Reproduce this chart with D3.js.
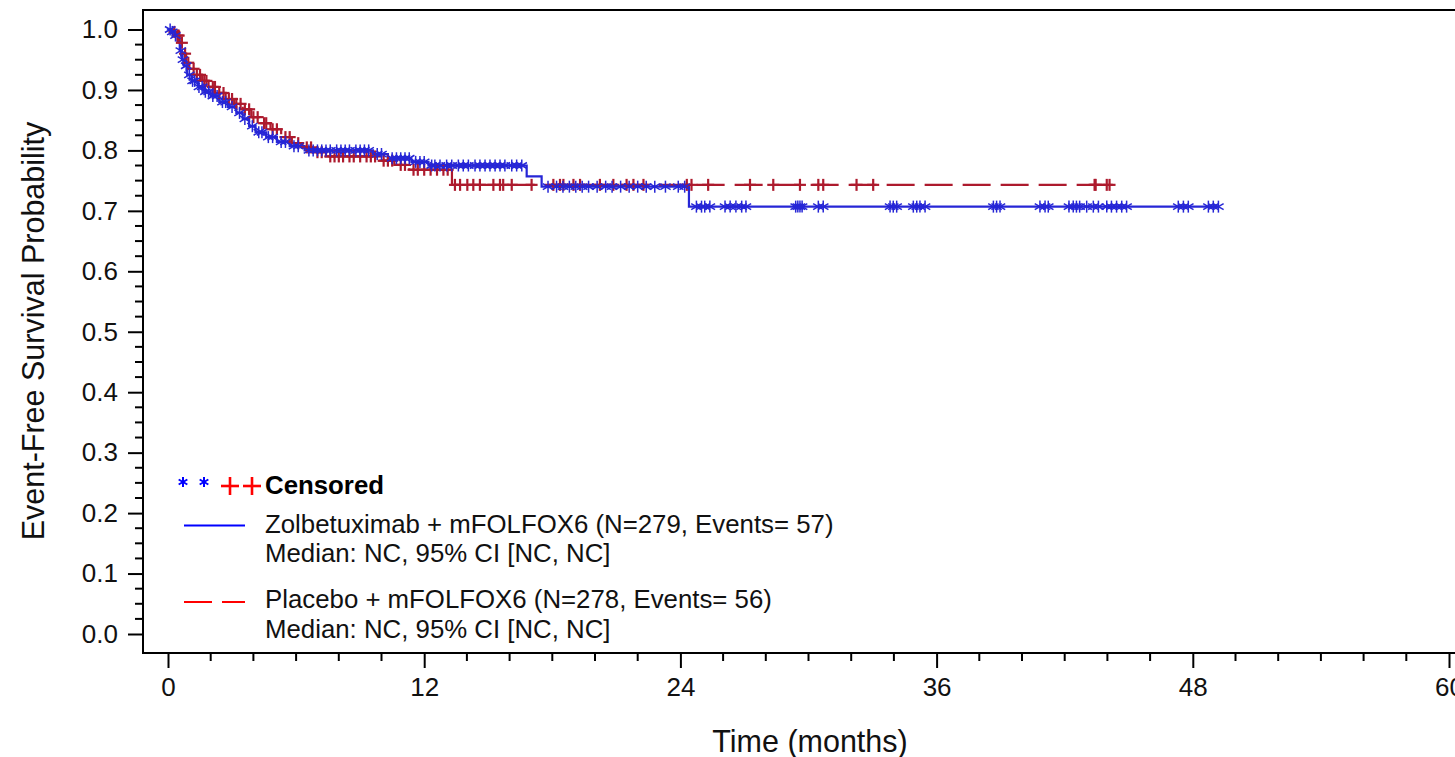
<!DOCTYPE html>
<html>
<head>
<meta charset="utf-8">
<script src="https://cdn.jsdelivr.net/npm/d3@7"></script>
<style>
  html, body { margin: 0; padding: 0; background: #fff; }
  svg { display: block; font-family: "Liberation Sans", Arial, sans-serif; }
</style>
</head>
<body>
<svg id="chart" width="1455" height="757"></svg>
<script>
// Kaplan-Meier step estimates: time of each drop (months) and survival after it
const zolbStepTime = [0.15, 0.3, 0.45, 0.55, 0.65, 0.75, 0.9, 1.1, 1.4, 1.7, 2.0, 2.4, 2.8, 3.2, 3.5, 3.8, 4.1, 4.6, 5.1, 5.7, 6.4, 9.6, 10.3, 11.4, 12.2, 16.8, 17.5, 24.4];
const zolbStepSurv = [0.996, 0.99, 0.98, 0.965, 0.95, 0.94, 0.925, 0.915, 0.905, 0.897, 0.89, 0.88, 0.872, 0.862, 0.852, 0.84, 0.83, 0.822, 0.814, 0.807, 0.80, 0.794, 0.787, 0.781, 0.775, 0.757, 0.740, 0.707];
const zolbLastTime = 49.2;
const zolbCensored = [0.1, 0.2, 0.35, 0.6, 0.7, 0.85, 1.0, 1.15, 1.25, 1.45, 1.6, 1.75, 1.9, 2.1, 2.3, 2.55, 2.7, 3.0, 3.35, 3.6, 3.95, 4.25, 4.4, 4.7, 4.9, 5.3, 5.5, 5.9, 6.1, 6.6, 6.8, 7.0, 7.2, 7.4, 7.6, 7.9, 8.1, 8.3, 8.5, 8.8, 9.0, 9.2, 9.4, 9.8, 10.0, 10.5, 10.7, 10.9, 11.1, 11.3, 11.6, 11.8, 12.0,
  12.35, 12.5, 12.74, 13.05, 13.29, 13.6, 13.83, 14.07, 14.38, 14.61, 14.85, 15.08, 15.32, 15.55, 15.78, 16.1, 16.33, 16.57,
  17.8, 18.2, 18.5, 18.8, 19.1, 19.4, 19.7, 20.1, 20.5, 20.8, 21.2, 21.6, 22.0, 22.4, 22.8, 23.3, 23.9, 24.2,
  24.75, 24.99, 25.14, 25.38, 26.09, 26.33, 26.6, 26.87, 27.07, 29.4, 29.5, 29.6, 29.7, 30.46, 30.69, 33.82, 33.97, 34.13, 34.91, 35.07, 35.22, 35.46, 38.66, 38.81, 38.97, 40.84, 41.08, 41.23, 42.2, 42.4, 42.55, 42.7, 43.03, 43.34, 43.58, 43.97, 44.19, 44.43, 44.67, 44.9, 47.32, 47.56, 47.79, 48.73, 48.96, 49.2];

const placStepTime = [0.25, 0.4, 0.55, 0.7, 0.85, 1.0, 1.3, 1.6, 1.9, 2.3, 2.7, 3.1, 3.5, 3.9, 4.3, 4.8, 5.3, 5.8, 6.3, 6.9, 7.4, 9.9, 10.6, 11.3, 13.3];
const placStepSurv = [0.996, 0.99, 0.978, 0.96, 0.945, 0.935, 0.925, 0.915, 0.905, 0.895, 0.885, 0.877, 0.868, 0.855, 0.845, 0.835, 0.822, 0.812, 0.805, 0.797, 0.79, 0.783, 0.776, 0.768, 0.743];
const placLastTime = 44.1;
const placCensored = [0.3, 0.45, 0.5, 0.65, 0.8, 0.95, 1.2, 1.35, 1.5, 1.7, 1.8, 2.1, 2.2, 2.4, 2.6, 2.85, 3.0, 3.2, 3.4, 3.6, 3.8, 4.0, 4.2, 4.5, 4.6, 4.9, 5.1, 5.5, 5.7, 6.1, 6.5, 6.7, 7.0, 7.2, 7.6, 7.8, 8.0, 8.2, 8.5, 8.7, 9.0, 9.3, 9.5, 9.7, 10.1, 10.3, 10.5, 10.9, 11.1, 11.5, 11.7, 12.0, 12.3, 12.6, 12.9, 13.1,
  13.44, 13.68, 14.02, 14.3, 14.61, 15.24, 15.55, 15.7, 16.1, 17.03, 18.05, 18.36, 18.52, 18.99, 19.3, 20.23, 20.86, 21.48, 21.8, 22.27,
  24.3, 24.52, 25.3, 27.26, 28.35, 29.6, 30.46, 30.69, 32.25, 33.03, 43.4, 43.45, 43.97, 44.1];

// Axis ticks
const xTicks = [0, 12, 24, 36, 48, 60];
const yTicks = [0.0, 0.1, 0.2, 0.3, 0.4, 0.5, 0.6, 0.7, 0.8, 0.9, 1.0];

// Legend text
const censorLabel = "Censored";
const seriesLabels = ["Zolbetuximab + mFOLFOX6 (N=279, Events= 57)", "Placebo + mFOLFOX6 (N=278, Events= 56)"];
const medianLabels = ["Median: NC, 95% CI [NC, NC]", "Median: NC, 95% CI [NC, NC]"];

const svg = d3.select("#chart");
const frame = { left: 143, top: 10, right: 1459, bottom: 653 };
const x = d3.scaleLinear().domain([0, 60]).range([168, 1449]);
const y = d3.scaleLinear().domain([0, 1]).range([634, 29.5]);

const blueLine = "#2626d6", redLine = "#ad1a2d";
const fontFam = "'Liberation Sans', Arial, sans-serif";

// plot frame
svg.append("rect")
  .attr("x", frame.left).attr("y", frame.top)
  .attr("width", frame.right - frame.left).attr("height", frame.bottom - frame.top)
  .attr("fill", "none").attr("stroke", "#000").attr("stroke-width", 2);

// y axis
const yAxis = d3.axisLeft(y).tickValues(yTicks).tickFormat(d3.format(".1f")).tickSize(15).tickPadding(10);
const gy = svg.append("g").attr("transform", `translate(${frame.left},0)`).call(yAxis);
gy.select(".domain").remove();
gy.selectAll(".tick line").attr("stroke", "#000").attr("stroke-width", 2);
gy.selectAll(".tick text").attr("font-size", 26).attr("font-family", fontFam).attr("fill", "#111");
const yMinor = d3.range(0, 1.0001, 0.025).filter(v => Math.abs(v * 10 - Math.round(v * 10)) > 1e-6);
svg.append("g").selectAll("line").data(yMinor).join("line")
  .attr("x1", frame.left - 8).attr("x2", frame.left)
  .attr("y1", d => y(d)).attr("y2", d => y(d))
  .attr("stroke", "#000").attr("stroke-width", 2);

// x axis
const xAxis = d3.axisBottom(x).tickValues(xTicks).tickFormat(d3.format("d")).tickSize(15).tickPadding(10);
const gx = svg.append("g").attr("transform", `translate(0,${frame.bottom})`).call(xAxis);
gx.select(".domain").remove();
gx.selectAll(".tick line").attr("stroke", "#000").attr("stroke-width", 2);
gx.selectAll(".tick text").attr("font-size", 26).attr("font-family", fontFam).attr("fill", "#111");
const xMinor = d3.range(0, 61, 2).filter(v => v % 12 !== 0);
svg.append("g").selectAll("line").data(xMinor).join("line")
  .attr("x1", d => x(d)).attr("x2", d => x(d))
  .attr("y1", frame.bottom).attr("y2", frame.bottom + 8)
  .attr("stroke", "#000").attr("stroke-width", 2);

// axis titles
svg.append("text")
  .attr("transform", `translate(33,331) rotate(-90)`)
  .attr("text-anchor", "middle").attr("dominant-baseline", "central")
  .attr("font-size", 30.5).attr("font-family", fontFam).attr("fill", "#111")
  .text("Event-Free Survival Probability");
svg.append("text")
  .attr("x", 810).attr("y", 752)
  .attr("text-anchor", "middle")
  .attr("font-size", 30.5).attr("font-family", fontFam).attr("fill", "#111")
  .text("Time (months)");

// step curves
function stepPoints(times, surv, last) {
  const pts = [[0, 1]];
  times.forEach((t, i) => pts.push([t, surv[i]]));
  pts.push([last, surv[surv.length - 1]]);
  return pts;
}
function survAt(times, surv, t) {
  let s = 1;
  for (let i = 0; i < times.length; i++) { if (times[i] <= t) s = surv[i]; }
  return s;
}
const line = d3.line().x(d => x(d[0])).y(d => y(d[1])).curve(d3.curveStepAfter);

svg.append("path")
  .attr("d", line(stepPoints(placStepTime, placStepSurv, placLastTime)))
  .attr("fill", "none").attr("stroke", redLine).attr("stroke-width", 2.2)
  .attr("stroke-dasharray", "28,10");
svg.append("path")
  .attr("d", line(stepPoints(zolbStepTime, zolbStepSurv, zolbLastTime)))
  .attr("fill", "none").attr("stroke", blueLine).attr("stroke-width", 2.2);

// censor symbols
function asterisk(g, cx, cy, r, color, w) {
  [90, 30, -30].forEach(a => {
    const rad = a * Math.PI / 180;
    g.append("line")
      .attr("x1", cx - r * Math.cos(rad)).attr("y1", cy - r * Math.sin(rad))
      .attr("x2", cx + r * Math.cos(rad)).attr("y2", cy + r * Math.sin(rad))
      .attr("stroke", color).attr("stroke-width", w);
  });
}
function plus(g, cx, cy, r, color, w) {
  g.append("line").attr("x1", cx - r).attr("x2", cx + r).attr("y1", cy).attr("y2", cy)
    .attr("stroke", color).attr("stroke-width", w);
  g.append("line").attr("x1", cx).attr("x2", cx).attr("y1", cy - r).attr("y2", cy + r)
    .attr("stroke", color).attr("stroke-width", w);
}
const gRed = svg.append("g");
placCensored.forEach(t => plus(gRed, x(t), y(survAt(placStepTime, placStepSurv, t)), 6, redLine, 2.2));
const gBlue = svg.append("g");
zolbCensored.forEach(t => asterisk(gBlue, x(t), y(survAt(zolbStepTime, zolbStepSurv, t)), 6, blueLine, 1.5));

// legend
const lg = svg.append("g");
asterisk(lg, 183, 482, 5, "#0000ff", 2);
asterisk(lg, 204, 482, 5, "#0000ff", 2);
plus(lg, 230, 486, 9, "#ff0000", 2.6);
plus(lg, 252, 486, 9, "#ff0000", 2.6);
lg.append("text").attr("x", 265).attr("y", 494)
  .attr("font-size", 25.8).attr("font-weight", "bold").attr("font-family", fontFam).attr("fill", "#000")
  .text(censorLabel);

lg.append("line").attr("x1", 184).attr("x2", 245).attr("y1", 525.5).attr("y2", 525.5)
  .attr("stroke", "#0000ff").attr("stroke-width", 2);
lg.append("line").attr("x1", 184).attr("x2", 245).attr("y1", 602).attr("y2", 602)
  .attr("stroke", "#ff0000").attr("stroke-width", 2).attr("stroke-dasharray", "28,10");

[[seriesLabels[0], 533], [medianLabels[0], 562], [seriesLabels[1], 608], [medianLabels[1], 638]].forEach(([txt, yy]) => {
  lg.append("text").attr("x", 265).attr("y", yy)
    .attr("font-size", 25.8).attr("font-family", fontFam).attr("fill", "#111")
    .text(txt);
});
</script>
</body>
</html>
